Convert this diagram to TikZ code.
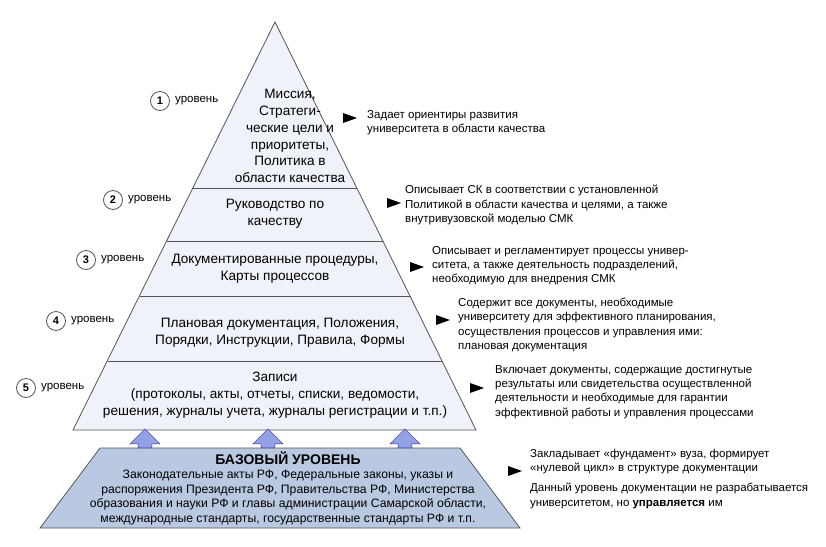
\documentclass[tikz,border=0pt]{standalone}
\usepackage{fontspec}
\setmainfont{Liberation Sans}
\usetikzlibrary{shapes.arrows}
\definecolor{pyrfill}{HTML}{F0F2F9}
\definecolor{basefill}{HTML}{B9C9E1}
\definecolor{edgegray}{HTML}{555555}
\tikzset{
  lvltext/.style={align=center, font=\fontsize{13.6}{16.8}\selectfont},
  note/.style={align=left, anchor=north west, inner sep=0pt, font=\fontsize{11.5}{14.3}\selectfont},
  numcirc/.style={circle, draw=edgegray, thick, fill=white, minimum size=19pt, inner sep=0pt, font=\bfseries\fontsize{11}{11}\selectfont},
  lvlword/.style={anchor=west, inner sep=0pt, font=\fontsize{11.5}{12}\selectfont},
  uparrow/.style={single arrow, shape border rotate=90, draw=edgegray!60!blue, fill=basefill!80!blue,
    minimum width=30pt, single arrow head extend=5pt, minimum height=19pt, inner sep=4pt, anchor=south}
}
\newcommand{\pointat}[2]{\fill[black] (#1,#2-5) -- (#1+14,#2) -- (#1,#2+5) -- cycle;}
\begin{document}
\begin{tikzpicture}[x=1pt, y=-1pt]
\useasboundingbox[fill=white] (0,0) rectangle (826,546);
% pyramid
\draw[edgegray, thick, fill=pyrfill] (275,22) -- (476,430) -- (73,430) -- cycle;
\foreach \yy in {188,241,296,361}
  \draw[edgegray] ({275-0.494*(\yy-22)},\yy) -- ({275+0.494*(\yy-22)},\yy);
% base
\draw[edgegray, thick, fill=basefill] (100,448) -- (460,448) -- (520,528) -- (40,528) -- cycle;
% arrows up
\foreach \xx in {145,268,405}
  \node[uparrow] at (\xx,448) {};
% level texts
\node[lvltext] (l1) at (290,136) {Миссия,\\Стратеги-\\ческие цели и\\приоритеты,\\Политика в\\области качества};
\node[lvltext] (l2) at (275,214) {Руководство по\\качеству};
\node[lvltext] (l3) at (275,269) {Документированные процедуры,\\Карты процессов};
\node[lvltext] (l4) at (280,333) {Плановая документация, Положения,\\Порядки, Инструкции, Правила, Формы};
\node[lvltext] (l5) at (275,395) {Записи\\(протоколы, акты, отчеты, списки, ведомости,\\решения, журналы учета, журналы регистрации и т.п.)};
\node[lvltext, font=\fontsize{12.2}{14.5}\selectfont] (base) at (288,488)
  {\textbf{\fontsize{14}{15}\selectfont БАЗОВЫЙ УРОВЕНЬ}\\Законодательные акты РФ, Федеральные законы, указы и\\распоряжения Президента РФ, Правительства РФ, Министерства\\образования и науки РФ и главы администрации Самарской области,\\международные стандарты, государственные стандарты РФ и т.п.};
% level numbers
\foreach \n/\xx/\yy in {1/160/101, 2/113/200, 3/86/260, 4/56/321, 5/26/388} {
  \node[numcirc] (c\n) at (\xx,\yy) {\n};
  \node[lvlword] (w\n) at (\xx+15,\yy) {уровень};
}
% notes
\pointat{343}{118}
\node[note] (n1) at (367,110) {Задает ориентиры развития\\университета в области качества};
\pointat{387}{203}
\node[note] (n2) at (405,185) {Описывает СК в соответствии с установленной\\Политикой в области качества и целями, а также\\внутривузовской моделью СМК};
\pointat{410}{267}
\node[note] (n3) at (432,246) {Описывает и регламентирует процессы универ-\\ситета, а также деятельность подразделений,\\необходимую для внедрения СМК};
\pointat{436}{320}
\node[note] (n4) at (458,298) {Содержит все документы, необходимые\\университету для эффективного планирования,\\осуществления процессов и управления ими:\\плановая документация};
\pointat{470}{388}
\node[note] (n5) at (495,365) {Включает документы, содержащие достигнутые\\результаты или свидетельства осуществленной\\деятельности и необходимые для гарантии\\эффективной работы и управления процессами};
\pointat{508}{471}
\node[note] (n6) at (530,449) {Закладывает «фундамент» вуза, формирует\\«нулевой цикл» в структуре документации};
\node[note] (n7) at (530,483) {Данный уровень документации не разрабатывается\\университетом, но \textbf{управляется} им};
\end{tikzpicture}
\end{document}
